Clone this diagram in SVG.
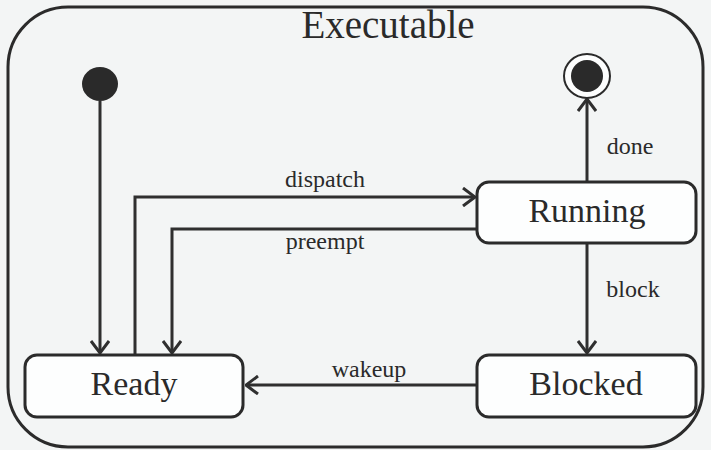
<svg xmlns="http://www.w3.org/2000/svg" width="711" height="450" viewBox="0 0 711 450">
<style>
.box{fill:none;stroke:#2b2b2b;stroke-width:3}
.node{fill:#fdfefe;stroke:#2b2b2b;stroke-width:3}
.edge{fill:none;stroke:#2f2f2f;stroke-width:3}
.big{font-family:"Liberation Serif",serif;font-size:34px;fill:#2a2a2a;text-anchor:middle}
.lbl{font-family:"Liberation Serif",serif;font-size:24px;fill:#2a2a2a;text-anchor:middle}
</style>
<defs>
<marker id="arr" viewBox="0 0 14 20" refX="13" refY="10" markerWidth="14" markerHeight="20" markerUnits="userSpaceOnUse" orient="auto">
<path d="M1,1 L13,10 L1,19" fill="none" stroke="#2f2f2f" stroke-width="3"/>
</marker>
</defs>
<rect width="711" height="450" fill="#f3f5f5"/>
<g id="executable">
<rect class="box" x="8" y="7" width="695" height="440" rx="60" ry="60"/>
<text class="big" x="388" y="38" style="font-size:39px">Executable</text>
</g>
<g id="connectors">
<path class="edge" d="M100,101 L100,353" marker-end="url(#arr)"/>
<path class="edge" d="M135,355 L135,197 L475,197" marker-end="url(#arr)"/>
<path class="edge" d="M477,229 L172,229 L172,353" marker-end="url(#arr)"/>
<path class="edge" d="M587,182 L587,99" marker-end="url(#arr)"/>
<path class="edge" d="M587,243 L587,353" marker-end="url(#arr)"/>
<path class="edge" d="M477,385 L246,385" marker-end="url(#arr)"/>
<text class="lbl" x="325" y="187">dispatch</text>
<text class="lbl" x="325" y="249">preempt</text>
<text class="lbl" x="630" y="154">done</text>
<text class="lbl" x="633" y="297">block</text>
<text class="lbl" x="369" y="377">wakeup</text>
</g>
<g id="initial">
<ellipse cx="100" cy="84" rx="18" ry="17" fill="#2a2a2a"/>
</g>
<g id="final">
<ellipse cx="587" cy="76" rx="23" ry="22" fill="#fdfefe" stroke="#2b2b2b" stroke-width="2"/>
<ellipse cx="587" cy="76" rx="16" ry="16" fill="#2a2a2a"/>
</g>
<g id="running">
<rect class="node" x="477" y="182" width="219" height="61" rx="12"/>
<text class="big" x="587" y="222">Running</text>
</g>
<g id="ready">
<rect class="node" x="25" y="355" width="218" height="62" rx="12"/>
<text class="big" x="134" y="395">Ready</text>
</g>
<g id="blocked">
<rect class="node" x="477" y="355" width="219" height="62" rx="12"/>
<text class="big" x="586" y="395">Blocked</text>
</g>
</svg>
